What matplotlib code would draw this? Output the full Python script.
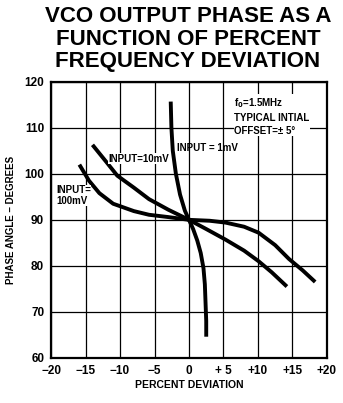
import matplotlib
matplotlib.use('Agg')
import matplotlib.pyplot as plt

# curves (percent deviation, phase angle in degrees)
dev_1mv = [-2.65, -2.55, -2.35, -1.9, -1.3, -0.6, 0.0, 0.6, 1.2, 1.7, 2.1, 2.3, 2.4, 2.5, 2.5]
phase_1mv = [115.7, 110, 105, 100, 95.5, 92, 90, 88, 85.5, 82.8, 79.5, 76, 72, 68, 64.6]

dev_10mv = [-14, -12, -10.4, -8, -5.8, -3, 0, 2.5, 5.3, 8, 10.1, 12, 14.2]
phase_10mv = [106.3, 102.6, 99.6, 97, 94.5, 92.2, 90, 88, 85.7, 83.3, 81, 78.6, 75.5]

dev_100mv = [-15.9, -14.5, -13, -11, -8, -5.8, -3, 0, 3, 5.3, 8, 10.1, 12.5, 14.5, 16.5, 18.3]
phase_100mv = [102, 98.5, 95.8, 93.5, 91.9, 91.1, 90.6, 90, 89.8, 89.4, 88.5, 87.2, 84.5, 81.5, 79, 76.5]

x_ticks = [-20, -15, -10, -5, 0, 5, 10, 15, 20]
x_labels = ['\u221220', '\u221215', '\u221210', '\u22125', '0', '+ 5', '+10', '+15', '+20']
y_ticks = [60, 70, 80, 90, 100, 110, 120]

plt.rcParams['font.family'] = ['Liberation Sans', 'DejaVu Sans']
plt.rcParams['font.weight'] = 'bold'

fig = plt.figure(figsize=(3.43, 4.03), dpi=100)
ax = fig.add_axes([0.149, 0.112, 0.804, 0.685])

for xs, ys in [(dev_1mv, phase_1mv), (dev_10mv, phase_10mv), (dev_100mv, phase_100mv)]:
    ax.plot(xs, ys, color='black', lw=2.8, solid_capstyle='butt', zorder=3)

ax.set_xlim(-20, 20)
ax.set_ylim(60, 120)
ax.set_xticks(x_ticks)
ax.set_xticklabels(x_labels)
ax.set_yticks(y_ticks)
ax.grid(True, color='black', lw=0.9)
ax.tick_params(length=0, labelsize=8.5, pad=5)
for sp in ax.spines.values():
    sp.set_linewidth(1.6)

ax.set_xlabel('PERCENT DEVIATION', fontsize=7.5, fontweight='bold', labelpad=2)
ax.set_ylabel('PHASE ANGLE \u2013 DEGREES', fontsize=7, fontweight='bold', labelpad=6)

ax.text(-1.8, 105.6, 'INPUT = 1mV', fontsize=7, va='center', ha='left', zorder=4)
ax.text(-11.7, 103.3, 'INPUT=10mV', fontsize=7, va='center', ha='left', zorder=4,
        bbox=dict(facecolor='white', edgecolor='none', pad=0.3))
ax.text(-19.3, 95.3, 'INPUT=\n100mV', fontsize=7, va='center', ha='left', zorder=4,
        linespacing=1.1, bbox=dict(facecolor='white', edgecolor='none', pad=0.3))
ax.text(6.6, 112.6, 'f$_0$=1.5MHz\nTYPICAL INTIAL\nOFFSET=\u00b1 5\u00b0', fontsize=7,
        va='center', ha='left', zorder=4, linespacing=1.35,
        bbox=dict(facecolor='white', edgecolor='none', pad=0.5))

fig.text(0.548, 0.985, 'VCO OUTPUT PHASE AS A\nFUNCTION OF PERCENT\nFREQUENCY DEVIATION',
         ha='center', va='top', fontsize=16, fontweight='bold', linespacing=1.1)

fig.savefig('out.png', dpi=100)
